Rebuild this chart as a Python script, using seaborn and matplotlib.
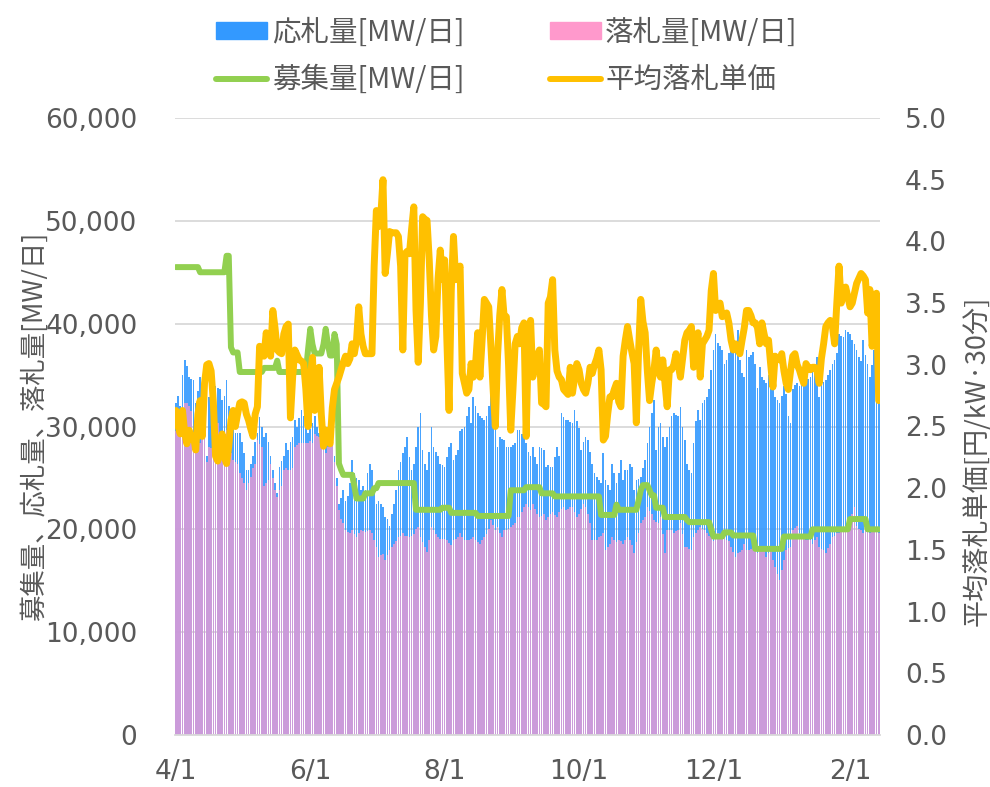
import numpy as np
import pandas as pd
import matplotlib
matplotlib.use('Agg')
import matplotlib.pyplot as plt
import seaborn as sns
from matplotlib.patches import Patch
from matplotlib.lines import Line2D
from matplotlib.ticker import FuncFormatter

# 応札量 [MW/日]（4/1 から日次）
bid = [
    32300, 33000, 32000, 35000, 36500, 35900, 34800, 34600, 34500, 32300,
    33500, 34800, 33000, 32300, 27100, 32900, 32000, 31300, 33900, 33700,
    33600, 32600, 33000, 34500, 32000, 31600, 30600, 29400, 29400, 29400,
    28500, 27400, 25800, 25800, 26400, 27100, 28500, 29400, 30900, 30000,
    29000, 29400, 28500, 27100, 25800, 24500, 23500, 26100, 26600, 27100,
    28400, 27700, 28500, 29000, 30600, 30000, 30800, 31600, 31000, 31000,
    29400, 29800, 30300, 31000, 30000, 29400, 29700, 29700, 30000, 29000,
    28500, 28700, 27100, 25000, 22500, 23000, 23800, 22800, 23200, 24500,
    26700, 25500, 25000, 24800, 23800, 24200, 23800, 25500, 26400, 25800,
    24000, 22500, 22800, 22500, 22200, 21200, 21000, 20300, 21500, 22500,
    23800, 25800, 26500, 27400, 28000, 29000, 27000, 25800, 26400, 28000,
    30000, 31300, 27700, 26400, 25800, 27500, 30000, 28000, 27500, 27100,
    26400, 26300, 26100, 27000, 28000, 28400, 26700, 27200, 27700, 29600,
    29800, 30000, 31000, 31900, 30300, 32900, 32000, 31300, 31000, 30800,
    30600, 31000, 32000, 33200, 30500, 30000, 28000, 29000, 28800, 28700,
    28000, 28000, 28000, 28200, 28400, 29700, 29700, 29300, 29000, 28400,
    27500, 27100, 28000, 27000, 26400, 28000, 27900, 27700, 26100, 26300,
    26100, 26100, 27000, 28000, 27100, 31300, 30900, 30600, 30600, 30400,
    30300, 31600, 30500, 29900, 27700, 28500, 29000, 28700, 27500, 26400,
    25500, 25100, 24800, 24500, 27400, 24800, 24300, 23800, 26400, 25500,
    24500, 25500, 26700, 24800, 25800, 25800, 26400, 26100, 23800, 24800,
    24900, 25100, 26000, 26700, 28400, 30000, 31300, 32600, 27700, 30000,
    30300, 29000, 28000, 29000, 30000, 31000, 31300, 31100, 31000, 31900,
    30000, 28700, 26400, 25800, 25500, 28400, 30500, 31600, 30600, 32300,
    32600, 32900, 33600, 35500, 37400, 39000, 38100, 37800, 37400, 36100,
    36500, 37100, 38700, 38000, 37400, 39400, 36500, 35200, 34800, 37400,
    36800, 37000, 37200, 36100, 33700, 35800, 34800, 34500, 34200, 35000,
    36100, 33600, 32900, 32600, 32300, 33000, 33900, 33200, 31000, 30300,
    33600, 34000, 34200, 33900, 34000, 34200, 34500, 34600, 34800, 35500,
    36000, 36800, 32900, 34200, 34300, 34500, 35000, 35500, 36100, 36500,
    37100, 39000, 38800, 38700, 39400, 39200, 39000, 38400, 38000, 37400,
    36800, 36400, 38400, 37000, 36100, 34800, 36000, 37400, 37400, 32600,
]

# 落札量 [MW/日]
award = [
    29600, 30000, 29000, 31000, 32300, 32300, 32000, 31500, 28700, 28500,
    28400, 28400, 28800, 29000, 26500, 28000, 27900, 27700, 29500, 30300,
    29300, 29000, 29500, 29700, 28000, 27400, 26700, 26500, 26400, 25500,
    25000, 24500, 23800, 24500, 25100, 26000, 26400, 28700, 28300, 28000,
    24200, 24500, 24800, 26400, 25000, 23800, 23100, 23800, 24200, 25800,
    26000, 25800, 25800, 26000, 28000, 28200, 28400, 28400, 28400, 28400,
    28400, 28600, 28400, 29300, 29100, 29000, 28500, 28000, 27400, 28000,
    28400, 29000, 26500, 24200, 21900, 21000, 20600, 19900, 19700, 19600,
    19900, 19500, 19300, 19600, 19900, 19800, 19700, 19800, 19900, 19600,
    19000, 18300, 17300, 17500, 17600, 17000, 17500, 18000, 18300, 18600,
    18900, 19300, 19400, 19600, 19400, 19400, 19300, 19400, 19500, 20000,
    20200, 19300, 18800, 18300, 17800, 19000, 20200, 19900, 19500, 19300,
    19100, 19100, 19100, 19000, 18700, 18500, 19000, 19100, 19300, 19600,
    19300, 19000, 19000, 19000, 19100, 19300, 19000, 18800, 18600, 19000,
    19300, 19500, 20000, 20900, 20400, 19900, 20200, 19600, 19300, 19900,
    19900, 20000, 20200, 20400, 20600, 21200, 21200, 21700, 22200, 22500,
    22200, 21900, 22500, 22000, 21500, 21200, 21300, 21500, 20900, 21200,
    21500, 21700, 21400, 21200, 21700, 22000, 22200, 21900, 22000, 22200,
    22200, 21700, 21200, 21500, 22000, 22500, 22200, 21500, 20600, 19000,
    19000, 19000, 19300, 19400, 19600, 18000, 18300, 18600, 19300, 19000,
    18800, 19000, 18900, 18600, 19000, 19300, 19000, 18500, 17700, 18800,
    19600, 20600, 20900, 21200, 22200, 21800, 21500, 20900, 20700, 20600,
    21200, 19500, 17700, 19900, 19900, 19900, 19600, 19800, 19900, 20600,
    19500, 18300, 18300, 18100, 18000, 19300, 19600, 19900, 20200, 20000,
    19900, 19600, 19400, 19300, 18900, 19200, 19600, 19400, 19300, 19300,
    19000, 18900, 18300, 17800, 17300, 17700, 17800, 18000, 18600, 18000,
    18000, 18100, 18300, 18000, 17700, 18300, 18100, 18000, 17300, 17700,
    18000, 17000, 16300, 15700, 15100, 16000, 17000, 18000, 18200, 18300,
    19900, 20100, 20300, 19600, 19400, 19300, 19000, 19000, 19000, 18600,
    19000, 19300, 18300, 18100, 18000, 17700, 18200, 18600, 19300, 19400,
    19600, 19600, 19800, 19900, 20300, 20600, 19900, 21500, 22200, 20300,
    20000, 19900, 19600, 19800, 19900, 19600, 19800, 19900, 19900, 19600,
]

# 平均落札単価 [円/kW・30分]
price = [
    2.63, 2.50, 2.44, 2.63, 2.45, 2.36, 2.47, 2.40, 2.42, 2.31,
    2.60, 2.71, 2.42, 2.85, 3.00, 3.01, 2.95, 2.70, 2.26, 2.22,
    2.30, 2.44, 2.25, 2.20, 2.34, 2.55, 2.63, 2.50, 2.60, 2.69,
    2.70, 2.69, 2.60, 2.55, 2.48, 2.42, 2.60, 2.66, 3.15, 3.10,
    3.07, 3.26, 3.15, 3.07, 3.44, 3.30, 3.12, 3.10, 3.09, 3.25,
    3.31, 3.33, 2.57, 2.90, 3.12, 3.08, 3.04, 3.03, 3.01, 2.80,
    2.50, 2.90, 3.06, 2.63, 2.70, 2.98, 2.60, 2.34, 2.47, 2.40,
    2.36, 2.65, 2.80, 2.85, 2.90, 2.96, 3.02, 3.07, 3.01, 3.05,
    3.17, 3.09, 3.20, 3.47, 3.25, 3.15, 3.09, 3.09, 3.09, 3.09,
    3.80, 4.25, 4.12, 4.20, 4.50, 3.74, 3.90, 4.08, 4.07, 4.07,
    4.07, 4.04, 3.80, 3.12, 3.90, 3.92, 3.90, 4.10, 4.28, 3.44,
    3.02, 3.50, 4.20, 4.18, 4.17, 3.85, 3.40, 3.12, 3.23, 3.70,
    3.93, 3.69, 3.85, 3.20, 2.63, 3.60, 4.04, 3.69, 3.75, 3.80,
    2.93, 2.85, 2.77, 2.80, 3.01, 2.90, 3.00, 3.26, 2.90, 3.20,
    3.53, 3.50, 3.47, 3.15, 2.80, 2.50, 3.07, 3.40, 3.61, 3.39,
    3.39, 3.00, 2.47, 2.80, 3.17, 3.23, 3.17, 3.30, 3.34, 2.42,
    3.20, 3.36, 2.90, 3.00, 3.07, 3.12, 2.69, 2.68, 2.66, 3.50,
    3.55, 3.69, 3.12, 2.95, 2.90, 2.88, 2.80, 2.78, 2.76, 2.98,
    2.77, 2.90, 3.01, 2.96, 2.85, 2.80, 2.77, 2.85, 2.98, 2.93,
    3.00, 3.05, 3.12, 2.96, 2.39, 2.42, 2.60, 2.74, 2.74, 2.80,
    2.85, 2.70, 2.66, 3.07, 3.20, 3.31, 3.20, 3.10, 3.01, 2.53,
    3.10, 3.53, 3.35, 3.26, 2.95, 2.71, 2.85, 2.96, 3.12, 2.95,
    2.90, 3.04, 2.85, 2.66, 2.96, 2.96, 3.00, 3.09, 3.00, 2.90,
    3.05, 3.20, 3.26, 3.28, 3.31, 2.98, 3.15, 3.26, 2.90, 3.17,
    3.20, 3.23, 3.28, 3.60, 3.74, 3.44, 3.48, 3.50, 3.39, 3.41,
    3.42, 3.34, 3.20, 3.12, 3.17, 3.12, 3.09, 3.20, 3.30, 3.44,
    3.44, 3.40, 3.34, 3.34, 3.30, 3.17, 3.34, 3.25, 3.17, 3.20,
    3.00, 2.82, 3.07, 3.05, 3.04, 3.09, 2.95, 2.85, 2.80, 2.95,
    3.07, 3.09, 3.00, 2.96, 2.90, 2.85, 3.01, 2.98, 2.96, 2.98,
    2.98, 2.95, 2.85, 3.05, 3.17, 3.31, 3.34, 3.36, 3.31, 3.17,
    3.50, 3.80, 3.50, 3.58, 3.63, 3.55, 3.47, 3.50, 3.58, 3.66,
    3.70, 3.74, 3.72, 3.69, 3.42, 3.61, 3.15, 3.26, 3.58, 2.71,
]

# 募集量 [MW/日]：水準と、その水準が続いた日数
recruit_levels = [
    45500, 45000, 46600, 37700, 37200, 35300, 35700, 36400, 35300, 37500,
    39500, 38000, 37100, 38000, 39500, 38000, 36900, 39000, 38000, 26400,
    25800, 25300, 24200, 23000, 23500, 24000, 24500, 21900, 22100, 21600,
    21300, 23800, 24100, 23500, 23200, 21400, 22400, 21900, 22800, 23800,
    24300, 23800, 23300, 22100, 21200, 20900, 20700, 20000, 19300, 19700,
    19400, 18100, 19300, 20000, 21000, 20000,
]
recruit_days = [
    11, 12, 2, 1, 3, 11, 6, 1, 13, 1,
    1, 1, 4, 1, 1, 1, 2, 1, 1, 1,
    1, 5, 1, 4, 4, 2, 17, 12, 4, 12,
    15, 7, 7, 6, 21, 7, 1, 9, 1, 1,
    3, 1, 2, 4, 10, 1, 10, 1, 5, 4,
    10, 13, 13, 17, 8, 6,
]

tick_days = [0, 61, 122, 183, 244, 306]
tick_labels = ['4/1', '6/1', '8/1', '10/1', '12/1', '2/1']

recruit = np.repeat(recruit_levels, recruit_days)
df = pd.DataFrame({
    'day': np.arange(len(bid)),
    'bid': bid,
    'award': award,
    'recruit': recruit,
    'price': price,
})

sns.set_style('white')
plt.rcParams['font.family'] = ['DejaVu Sans', 'Noto Sans CJK JP']
jp = ['Noto Sans CJK JP', 'DejaVu Sans']
grey = '#595959'
gridc = '#D9D9D9'

fig = plt.figure(figsize=(9.9, 7.87), dpi=100)
ax = fig.add_axes([175 / 990, 1 - 735 / 787, 705 / 990, 617 / 787])

# 棒グラフ（応札量の上に落札量を重ねる）
sns.barplot(data=df, x='day', y='bid', native_scale=True, color='#3399FF',
            saturation=1, width=0.75, errorbar=None, linewidth=0,
            alpha=0.9, ax=ax)
sns.barplot(data=df, x='day', y='award', native_scale=True, color='#FF99CC',
            saturation=1, width=0.75, errorbar=None, linewidth=0,
            alpha=0.72, ax=ax)
sns.lineplot(data=df, x='day', y='recruit', color='#92D050', lw=4.3,
             solid_joinstyle='round', solid_capstyle='round', ax=ax)

ax2 = ax.twinx()
sns.lineplot(data=df, x='day', y='price', color='#FFC000', lw=5.0,
             solid_joinstyle='round', solid_capstyle='round', ax=ax2)

# 軸の設定
ax.set_xlim(-0.4, 319.6)
ax.set_ylim(0, 60000)
ax.set_yticks(range(0, 60001, 10000))
ax.yaxis.set_major_formatter(FuncFormatter(lambda v, p: f'{int(v):,}'))
ax2.set_ylim(0, 5.0)
ax2.set_yticks(np.arange(0, 5.01, 0.5))
ax2.yaxis.set_major_formatter(FuncFormatter(lambda v, p: f'{v:.1f}'))
ax.set_xticks(tick_days)
ax.set_xticklabels(tick_labels)

ax.grid(axis='y', color=gridc, lw=1.3)
ax.grid(axis='x', visible=False)
ax.set_axisbelow(True)

for s in ['top', 'left', 'right']:
    ax.spines[s].set_visible(False)
ax.spines['bottom'].set_color(gridc)
ax.spines['bottom'].set_linewidth(1.3)
for s in ax2.spines.values():
    s.set_visible(False)

ax.tick_params(axis='y', length=0, pad=27, labelsize=19, labelcolor=grey)
ax2.tick_params(axis='y', length=0, pad=18, labelsize=19, labelcolor=grey)
ax.tick_params(axis='x', length=7, width=1.3, color=gridc, pad=10,
               labelsize=19, labelcolor=grey)

ax.set_xlabel('')
ax.set_ylabel('募集量、応札量、落札量[MW/日]', fontsize=19, color=grey, family=jp)
ax.yaxis.set_label_coords(-0.18, 0.5)
ax2.set_ylabel('平均落札単価[円/kW·30分]', fontsize=19.5, color=grey, family=jp,
               rotation=90)
ax2.yaxis.set_label_coords(1.118, 0.445)

# 凡例
handles = [
    Patch(color='#3399FF', label='応札量[MW/日]'),
    Line2D([0], [0], color='#92D050', lw=4.3, solid_capstyle='round', label='募集量[MW/日]'),
    Patch(color='#FF99CC', label='落札量[MW/日]'),
    Line2D([0], [0], color='#FFC000', lw=4.3, solid_capstyle='round', label='平均落札単価'),
]
leg = fig.legend(handles=handles, ncol=2, loc='upper center',
                 bbox_to_anchor=(0.512, 1.003), frameon=False,
                 prop={'family': jp, 'size': 20.5}, handlelength=1.8,
                 handleheight=0.5, handletextpad=0.15, columnspacing=3.0,
                 labelspacing=0.62, borderpad=0.2)
for t in leg.get_texts():
    t.set_color(grey)

fig.savefig('out.png', dpi=100)
